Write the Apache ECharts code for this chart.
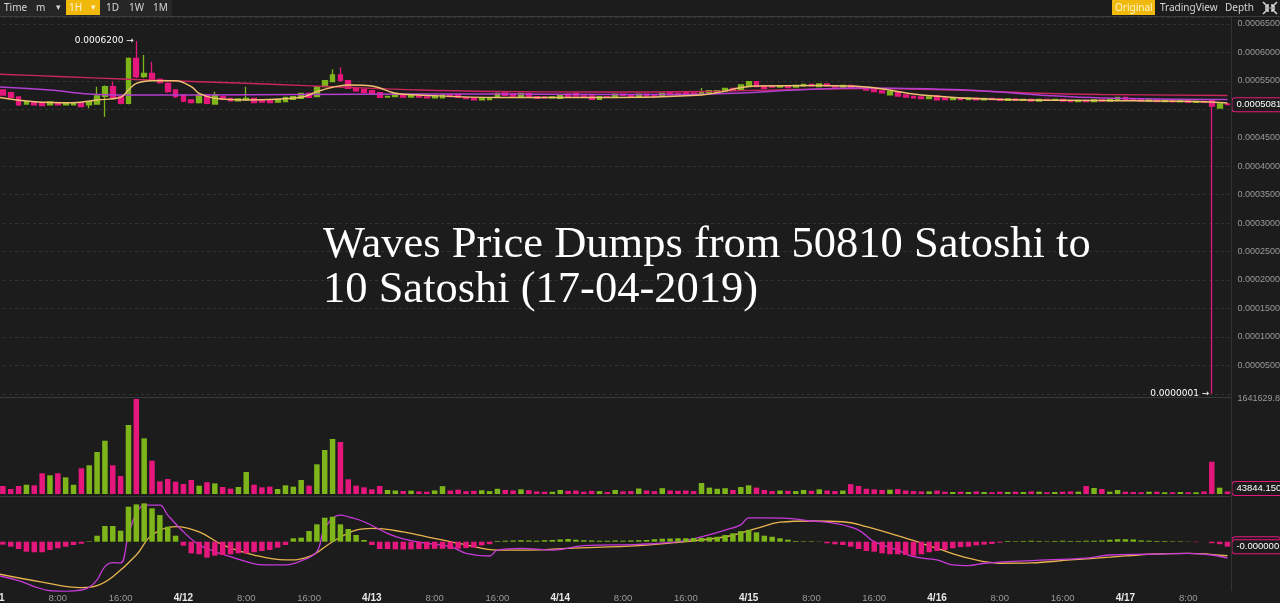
<!DOCTYPE html>
<html><head><meta charset="utf-8">
<script src="https://cdn.jsdelivr.net/npm/echarts@6/dist/echarts.min.js"></script>
<style>html,body{margin:0;padding:0;background:#1c1c1c;overflow:hidden}#c{width:1280px;height:603px}</style>
</head><body><div id="c"></div><script>
// ---------- DATA (prices in satoshi, 1 sat = 0.00000001 BTC) ----------
const SAT = 1e-8;
const dayStart = 11, dayEnd = 17, barCount = 158;
const categories = [];
for (let d = dayStart; d <= dayEnd; d++) for (let h = 0; h < 24; h++) if (categories.length < barCount) categories.push('4/' + d + ' ' + h + ':00');

// [open, close, low, high]
const candles = [
[53390,52700,52500,53600],[53390,52510,52400,53500],[52920,52110,51950,53100],[52160,50760,50600,52300],[50930,51340,50800,51450],
[51280,50760,50650,51350],[51110,50640,50550,51200],[50760,51280,50680,51350],[51110,50760,50650,51200],[50800,51000,50700,51100],
[50800,51100,50700,51200],[51110,50460,50350,51200],[50760,51340,50170,51450],[50930,52340,50800,53970],[52280,53970,48700,54200],
[53970,52110,51900,54850],[52220,51060,50900,52400],[51060,58960,50900,59100],[58960,55730,55500,62000],[55730,56330,55500,59540],
[56330,55150,55000,58370],[55270,54680,54500,55400],[54570,53100,52900,54700],[53390,52220,52000,53500],[52510,51460,51300,52600],
[51640,51160,51000,51700],[51160,52510,51000,52600],[52510,51060,50900,52600],[50930,52510,50800,53100],[52220,51760,51650,52300],
[51900,51500,51400,52000],[51500,51830,51400,51900],[51700,51900,51500,53970],[51900,51160,51050,52000],[51600,51280,51200,51700],
[51500,51160,51050,51600],[51280,51760,51200,51850],[51340,52110,51250,52200],[51760,52220,51650,52300],[51940,52810,51850,52900],
[52810,52110,52000,52900],[52220,53970,52100,54050],[53970,55030,53900,55150],[54850,56030,54750,57030],[56030,55030,54900,57380],
[55030,53690,53550,55150],[53740,53220,53100,53850],[53510,52920,52800,53600],[53270,52690,52600,53350],[52920,52110,52000,53000],
[52150,52250,52050,52350],[52220,52810,52150,52900],[52520,52160,52050,52600],[52160,52430,52080,52520],[52430,52160,52080,52520],
[52160,51990,51900,52250],[51990,52340,51900,52420],[51990,52520,51900,52600],[52520,52250,52150,52600],[52600,52110,52000,52700],
[52110,51900,51800,52200],[51990,51640,51550,52080],[51640,51990,51550,52080],[51720,52040,51650,52120],[52110,52810,52050,52900],
[52870,52430,52350,52950],[52690,52340,52250,52780],[52220,52810,52150,52900],[52810,52220,52150,52900],[52220,51940,51850,52300],
[52160,51990,51900,52250],[51990,52160,51900,52250],[51940,52520,51850,52600],[52640,52220,52150,52720],[52810,52340,52250,52900],
[52340,52160,52080,52420],[52340,51760,51680,52420],[51760,52220,51680,52300],[52220,52080,52000,52300],[52110,52640,52050,52720],
[52640,52430,52350,52720],[52520,52110,52030,52600],[52110,52640,52030,52720],[52640,52340,52250,52720],[52520,52250,52170,52600],
[52340,52810,52250,52900],[52920,52520,52430,53000],[52810,52520,52430,52900],[52920,52600,52520,53000],[52870,52520,52430,52950],
[52810,53100,52730,53750],[52810,53270,52730,53350],[52920,53270,52850,53350],[53100,53690,53020,53780],[53690,53270,53190,53780],
[53510,54270,53430,54350],[53970,54850,53900,54950],[54850,53970,53900,54950],[54100,53690,53600,54180],[54100,53920,53850,54180],
[53920,54100,53850,54180],[54100,53830,53750,54180],[53920,54180,53850,54260],[54100,54360,54020,54450],[54360,54100,54020,54450],
[53970,54450,53900,54530],[54450,54100,54020,54530],[54100,53920,53850,54180],[53920,54180,53850,54260],[54180,53830,53750,54260],
[53920,53690,53600,54000],[53750,53390,53300,53830],[53570,53130,53050,53650],[53220,52870,52800,53300],[52520,53100,52430,53180],
[53100,52340,52250,53180],[52520,52160,52080,52600],[52250,51990,51900,52340],[52160,51900,51820,52250],[51900,52160,51820,52250],
[52340,51640,51550,52420],[51990,51720,51640,52080],[51720,51900,51640,51990],[51940,51720,51640,52020],[51720,51940,51640,52020],
[51940,51640,51560,52020],[51640,51900,51560,51990],[51900,51720,51640,51990],[51810,51550,51460,51900],[51550,51810,51460,51900],
[51810,51550,51460,51900],[51550,51720,51460,51810],[51720,51460,51380,51810],[51460,51720,51380,51810],[51720,51550,51460,51810],
[51550,51720,51460,51810],[51720,51460,51380,51810],[51550,51370,51290,51640],[51370,51550,51290,51640],[51550,51370,51290,51640],
[51370,51640,51290,51720],[51640,51460,51380,51720],[51460,51720,51380,51810],[51640,52110,51550,52200],[52110,51720,51640,52200],
[51810,51550,51460,51900],[51720,51460,51380,51810],[51460,51640,51380,51720],[51640,51370,51290,51720],[51370,51550,51290,51640],
[51550,51290,51200,51640],[51290,51460,51200,51550],[51460,51200,51110,51550],[51200,51370,51110,51460],[51370,51200,51110,51460],
[51640,50580,10,51720],[50230,50930,50150,51000],[50930,50810,50750,51000]
];

const volumes = [
120000,138000,86000,138000,160000,150000,358000,323000,358000,288000,
160000,444000,496000,726000,921000,496000,311000,1192000,1641629.8,962000,
575000,219000,259000,213000,173000,242000,144000,204000,184000,121000,
92000,121000,380000,160000,115000,127000,86000,150000,127000,242000,
144000,513000,760000,950000,899000,254000,144000,115000,81000,138000,
69000,60000,52000,58000,45000,40000,62000,135000,60000,75000,
48000,55000,65000,50000,90000,70000,60000,80000,65000,45000,
40000,38000,70000,55000,60000,40000,55000,50000,35000,70000,
45000,50000,95000,60000,50000,100000,60000,55000,60000,50000,
190000,110000,90000,100000,70000,120000,150000,110000,70000,50000,
60000,55000,50000,70000,55000,80000,60000,50000,60000,170000,
140000,90000,80000,70000,75000,85000,60000,50000,45000,45000,
60000,40000,35000,40000,35000,45000,35000,30000,40000,35000,
40000,35000,45000,40000,30000,35000,40000,45000,40000,138000,
104000,86000,40000,69000,40000,35000,30000,40000,40000,30000,
30000,35000,30000,30000,45000,558000,109000,43844.15
];

// MACD histogram (satoshi)
const macdHist = [
-134,-120,-203,-296,-405,-429,-429,-336,-267,-203,
-134,-80,20,243,636,636,446,1418,1515,1555,
1353,1080,608,243,-162,-470,-510,-648,-567,-539,
-510,-470,-470,-429,-377,-336,-243,-134,138,162,
433,705,972,1013,705,514,271,69,-134,-296,
-300,-310,-320,-310,-300,-300,-290,-290,-300,-280,
-260,-240,-150,-100,30,40,50,60,50,40,
60,70,90,110,80,60,50,40,40,50,
40,50,60,70,100,120,130,140,140,150,
150,180,200,270,340,430,480,380,243,200,
138,80,30,20,20,10,-65,-105,-134,-203,
-296,-377,-405,-470,-510,-510,-539,-567,-510,-429,
-377,-336,-267,-220,-203,-150,-120,-90,-40,30,
20,30,40,30,20,30,40,30,30,40,
40,50,80,100,100,90,50,40,30,30,
20,20,10,-20,0,-60,-100,-200
];

// readings of indicator lines: [bar index, value in satoshi]
const maShortPts = [[0,52210],[5,51330],[10,51150],[13,51640],[16,52110],[17,53390],[18,54560],[20,55020],[23,55020],[25,53970],[26,52810],[28,51940],[32,51640],[39,52110],[41,53100],[43,53870],[45,54270],[48,54100],[51,52810],[54,52510],[64,52080],[77,52080],[90,52520],[97,54100],[105,54190],[111,53920],[118,52520],[128,51720],[141,51550],[153,51370],[157,51110]];
const maMidPts = [[0,53970],[7,53390],[12,52690],[17,52510],[26,52510],[39,52600],[54,52690],[64,52690],[77,52600],[87,52600],[95,52870],[102,53390],[111,53750],[122,53480],[128,53040],[134,52430],[141,51990],[157,51720]];
const maLongPts = [[0,56200],[8,55770],[17,55270],[26,54850],[36,54360],[43,53970],[54,53390],[64,53130],[77,53040],[90,53130],[102,53480],[111,53660],[122,53390],[132,52870],[141,52600],[157,52430]];
const difPts = [[0,-1350],[3,-1580],[5,-1820],[7,-1990],[9,-2020],[11,-1960],[12,-1850],[13,-1550],[14,-1010],[15,-850],[16,-860],[17,300],[18,1150],[19,1480],[21,1480],[22,1080],[24,400],[26,-130],[28,-400],[30,-610],[32,-810],[34,-940],[37,-940],[39,-780],[41,-400],[42,540],[44,1080],[45,1010],[47,810],[50,340],[52,110],[55,-65],[58,-200],[60,-470],[63,-580],[64,-340],[67,-270],[71,-340],[75,-160],[82,-105],[87,0],[90,200],[93,470],[95,680],[96,970],[98,970],[101,950],[104,840],[107,745],[110,470],[112,0],[115,-340],[117,-610],[120,-740],[122,-940],[124,-970],[126,-875],[129,-810],[134,-740],[139,-670],[142,-540],[147,-510],[152,-470],[155,-540],[157,-670]];
const deaPts = [[0,-1280],[6,-1640],[11,-1860],[13,-1780],[15,-1420],[18,-540],[20,270],[23,610],[26,400],[29,-130],[33,-540],[37,-740],[40,-610],[43,0],[46,470],[48,540],[52,400],[55,200],[60,-130],[64,-340],[68,-340],[73,-270],[82,-160],[87,-24],[93,200],[97,540],[100,790],[104,840],[108,810],[111,610],[116,140],[120,-270],[124,-670],[128,-875],[132,-860],[137,-740],[142,-630],[147,-510],[152,-470],[157,-570]];

const highMark = {index: 18, value: 62000, text: '0.0006200'};
const lowMark = {index: 155, value: 10, text: '0.0000001'};
const macdLabel = '-0.000000';
const macdLabelBehind = '0.000000';
const macdBehindLevel = -80;
const titleText = 'Waves Price Dumps from 50810 Satoshi to\n10 Satoshi (17-04-2019)';
const priceAxis = {min: 0, max: 66220, interval: 5000};
const macdAxis = {min: -2000, max: 1813};

// ---------- CHART ----------
const GREEN = '#7db51a', PINK = '#e5177d', BG = '#1c1c1c', LBL = '#9a9a9a';
const AXFONT = 'Liberation Sans';
const toPairs = pts => pts.map(p => [categories[p[0]], p[1]]);
const lastClose = candles[candles.length - 1][1];
const lastVol = volumes[volumes.length - 1];
const volMax = Math.max.apply(null, volumes);
const isUp = i => candles[i][1] >= candles[i][0];

const G = {left: -8.9, right: 48.6, outerBoundsMode: 'none', containLabel: false};
const boxLabel = (txt) => ({show: true, position: 'end', distance: 1, formatter: txt, color: '#fff', fontSize: 9.5,
  fontFamily: AXFONT, backgroundColor: BG, borderColor: PINK, borderWidth: 1, borderRadius: 3, padding: [2, 4, 1, 4]});
const hiddenLine = {color: 'rgba(0,0,0,0)', width: 0};

const chart = echarts.init(document.getElementById('c'));
const xAxes = [0, 1, 2].map(g => ({
  type: 'category', gridIndex: g, data: categories, boundaryGap: true,
  axisLine: {show: false}, axisTick: {show: false}, splitLine: {show: false},
  axisLabel: g === 2 ? {
    show: true, color: LBL, fontSize: 9.5, margin: 2, fontFamily: AXFONT,
    interval: (idx, v) => parseInt(v.split(' ')[1]) % 8 === 0,
    formatter: v => { const p = v.split(' '); return p[1] === '0:00' ? '{d|' + p[0] + '}' : p[1]; },
    rich: {d: {color: '#e8e8e8', fontWeight: 'bold', fontSize: 10, fontFamily: AXFONT}}
  } : {show: false}
}));

const option = {
  backgroundColor: BG,
  animation: false,
  grid: [Object.assign({top: 17, height: 376.8}, G), Object.assign({top: 399, height: 95}, G), Object.assign({top: 497, height: 94}, G)],
  xAxis: xAxes,
  yAxis: [
    {type: 'value', gridIndex: 0, position: 'right', min: priceAxis.min, max: priceAxis.max, interval: priceAxis.interval,
      axisLine: {show: false}, axisTick: {show: false},
      splitLine: {show: true, lineStyle: {color: '#333333', type: [3, 3], width: 1}},
      axisLabel: {color: LBL, fontSize: 9, margin: 6, fontFamily: AXFONT,
        formatter: v => (v % 5000 !== 0 || v === 0 || v === 50000) ? '' : (v * SAT).toFixed(7)}},
    {type: 'value', gridIndex: 1, position: 'right', min: 0, max: volMax, interval: volMax,
      axisLine: {show: false}, axisTick: {show: false}, splitLine: {show: false},
      axisLabel: {color: LBL, fontSize: 9, margin: 6, fontFamily: AXFONT, verticalAlign: 'middle', formatter: v => v >= volMax ? v.toFixed(2) : ''}},
    {type: 'value', gridIndex: 2, position: 'right', min: macdAxis.min, max: macdAxis.max,
      axisLine: {show: false}, axisTick: {show: false}, splitLine: {show: false}, axisLabel: {show: false}}
  ],
  graphic: [
    {type: 'rect', shape: {x: 0, y: 0, width: 172, height: 16}, style: {fill: '#262626'}, z: 50},
    {type: 'text', x: 4, y: 8, style: {text: 'Time', fill: '#d6d6d6', fontSize: 10, fontFamily: 'Noto Sans', verticalAlign: 'middle'}, z: 51},
    {type: 'text', x: 36, y: 8, style: {text: 'm', fill: '#d6d6d6', fontSize: 10, fontFamily: 'Noto Sans', verticalAlign: 'middle'}, z: 51},
    {type: 'text', x: 56, y: 8, style: {text: '▾', fill: '#d6d6d6', fontSize: 9, fontFamily: 'DejaVu Sans', verticalAlign: 'middle'}, z: 51},
    {type: 'rect', shape: {x: 66, y: 0, width: 34, height: 15}, style: {fill: '#f0b90b'}, z: 51},
    {type: 'text', x: 69, y: 8, style: {text: '1H', fill: '#fff5d0', fontSize: 10, fontFamily: 'Noto Sans', verticalAlign: 'middle'}, z: 52},
    {type: 'text', x: 91, y: 8, style: {text: '▾', fill: '#fff5d0', fontSize: 9, fontFamily: 'DejaVu Sans', verticalAlign: 'middle'}, z: 52},
    {type: 'text', x: 106, y: 8, style: {text: '1D', fill: '#d6d6d6', fontSize: 10, fontFamily: 'Noto Sans', verticalAlign: 'middle'}, z: 51},
    {type: 'text', x: 129, y: 8, style: {text: '1W', fill: '#d6d6d6', fontSize: 10, fontFamily: 'Noto Sans', verticalAlign: 'middle'}, z: 51},
    {type: 'text', x: 153, y: 8, style: {text: '1M', fill: '#d6d6d6', fontSize: 10, fontFamily: 'Noto Sans', verticalAlign: 'middle'}, z: 51},
    {type: 'rect', shape: {x: 1112, y: 0, width: 43, height: 15}, style: {fill: '#f0b90b'}, z: 51},
    {type: 'text', x: 1115, y: 8, style: {text: 'Original', fill: '#fff5d0', fontSize: 10, fontFamily: 'Noto Sans', verticalAlign: 'middle'}, z: 52},
    {type: 'text', x: 1160, y: 8, style: {text: 'TradingView', fill: '#d6d6d6', fontSize: 10, fontFamily: 'Noto Sans', verticalAlign: 'middle'}, z: 51},
    {type: 'text', x: 1225, y: 8, style: {text: 'Depth', fill: '#d6d6d6', fontSize: 10, fontFamily: 'Noto Sans', verticalAlign: 'middle'}, z: 51},
    {type: 'polyline', shape: {points: [[1263, 2], [1268, 7], [1265, 7], [1268, 7], [1268, 4]]}, style: {stroke: '#d6d6d6', lineWidth: 1.5, fill: null}, z: 51},
    {type: 'polyline', shape: {points: [[1277, 2], [1272, 7], [1275, 7], [1272, 7], [1272, 4]]}, style: {stroke: '#d6d6d6', lineWidth: 1.5, fill: null}, z: 51},
    {type: 'polyline', shape: {points: [[1263, 14], [1268, 9], [1265, 9], [1268, 9], [1268, 12]]}, style: {stroke: '#d6d6d6', lineWidth: 1.5, fill: null}, z: 51},
    {type: 'polyline', shape: {points: [[1277, 14], [1272, 9], [1275, 9], [1272, 9], [1272, 12]]}, style: {stroke: '#d6d6d6', lineWidth: 1.5, fill: null}, z: 51},
    {type: 'line', shape: {x1: 0, y1: 16.5, x2: 1280, y2: 16.5}, style: {stroke: '#3c3c3c', lineWidth: 1}, z: 50},
    {type: 'line', shape: {x1: 0, y1: 397.5, x2: 1232, y2: 397.5}, style: {stroke: '#3a3a3a', lineWidth: 1}, z: 50},
    {type: 'line', shape: {x1: 0, y1: 496.5, x2: 1232, y2: 496.5}, style: {stroke: '#3a3a3a', lineWidth: 1}, z: 50},
    {type: 'line', shape: {x1: 1231.5, y1: 17, x2: 1231.5, y2: 591}, style: {stroke: '#333', lineWidth: 1}, z: 50},
    {type: 'text', x: 323, y: 223, z: 100,
      style: {text: titleText, fill: '#ffffff', fontSize: 44.5, fontFamily: 'Liberation Serif', lineHeight: 45}}
  ],
  series: [
    {type: 'candlestick', name: 'price', xAxisIndex: 0, yAxisIndex: 0, z: 2, barWidth: '68%',
      data: candles,
      itemStyle: {color: GREEN, color0: PINK, borderColor: GREEN, borderColor0: PINK, borderWidth: 1.3},
      markPoint: {symbol: 'rect', symbolSize: 1, itemStyle: {color: 'rgba(0,0,0,0)'},
        label: {show: true, position: 'left', distance: 2, color: '#fff', fontSize: 9, fontFamily: 'DejaVu Sans'},
        data: [
          {coord: [categories[highMark.index], highMark.value], label: {formatter: highMark.text + ' →'}},
          {coord: [categories[lowMark.index], lowMark.value], label: {formatter: lowMark.text + ' →'}}
        ]},
      markLine: {symbol: 'none', silent: true, lineStyle: hiddenLine, data: [{yAxis: lastClose}],
        label: boxLabel((lastClose * SAT).toFixed(7))}
    },
    {type: 'line', name: 'MA long', xAxisIndex: 0, yAxisIndex: 0, z: 3, data: toPairs(maLongPts), smooth: 0.4, showSymbol: false,
      lineStyle: {color: '#c9265f', width: 1.4}},
    {type: 'line', name: 'MA mid', xAxisIndex: 0, yAxisIndex: 0, z: 3, data: toPairs(maMidPts), smooth: 0.4, showSymbol: false,
      lineStyle: {color: '#b33fd0', width: 1.5}},
    {type: 'line', name: 'MA short', xAxisIndex: 0, yAxisIndex: 0, z: 4, data: toPairs(maShortPts), smooth: 0.4, showSymbol: false,
      lineStyle: {color: '#f0c070', width: 1.4}},
    {type: 'bar', name: 'volume', xAxisIndex: 1, yAxisIndex: 1, barWidth: '70%',
      data: volumes.map((v, i) => ({value: v, itemStyle: {color: isUp(i) ? GREEN : PINK}})),
      markLine: {symbol: 'none', silent: true, lineStyle: hiddenLine, data: [{yAxis: lastVol}],
        label: Object.assign(boxLabel(lastVol.toFixed(3)), {offset: [0, -3]})}
    },
    {type: 'line', name: 'DEA', xAxisIndex: 2, yAxisIndex: 2, z: 3, data: toPairs(deaPts), smooth: 0.4, showSymbol: false,
      lineStyle: {color: '#e8b44e', width: 1.3},
      markLine: {symbol: 'none', silent: true, lineStyle: hiddenLine, data: [{yAxis: macdBehindLevel}], label: boxLabel(macdLabelBehind)}},
    {type: 'line', name: 'DIF', xAxisIndex: 2, yAxisIndex: 2, z: 3, data: toPairs(difPts), smooth: 0.4, showSymbol: false,
      lineStyle: {color: '#c63ad8', width: 1.3}},
    {type: 'bar', name: 'MACD', xAxisIndex: 2, yAxisIndex: 2, z: 4, barWidth: '70%',
      data: macdHist.map(v => ({value: v, itemStyle: {color: v >= 0 ? GREEN : PINK}})),
      markLine: {symbol: 'none', silent: true, lineStyle: hiddenLine, data: [{yAxis: macdHist[macdHist.length - 1]}],
        label: boxLabel(macdLabel)}}
  ]
};
chart.setOption(option);
</script></body></html>
